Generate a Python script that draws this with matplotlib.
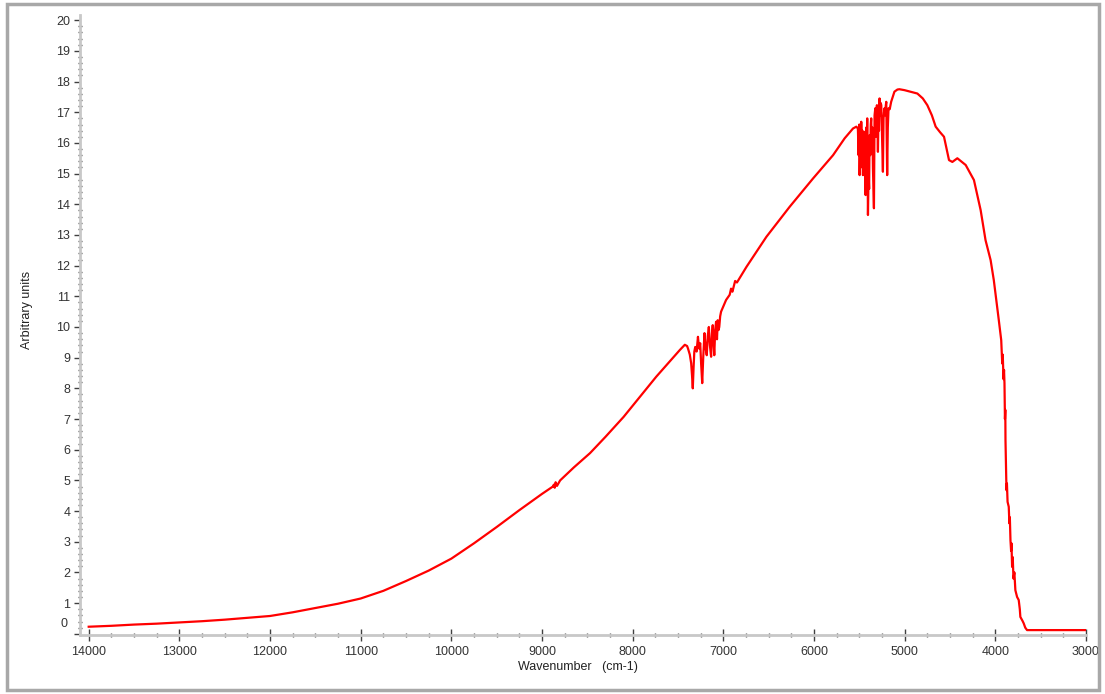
import matplotlib.pyplot as plt
from matplotlib.patches import Rectangle
from matplotlib.ticker import MultipleLocator, FuncFormatter

plt.rcParams['font.family'] = ['Liberation Sans', 'DejaVu Sans']

# spectrum (wavenumber in cm-1, arbitrary units)
wavenumber = [
    14000, 13750, 13500, 13250, 13000, 12750, 12500, 12250, 12000, 11750,
    11500, 11250, 11000, 10750, 10500, 10250, 10000, 9750, 9500, 9250,
    9000, 8880, 8870, 8860, 8850, 8835, 8800, 8650, 8470, 8300,
    8100, 7900, 7740, 7600, 7480, 7425, 7400, 7390, 7370, 7355,
    7345, 7337, 7328, 7320, 7310, 7295, 7280, 7268, 7255, 7245,
    7233, 7222, 7208, 7195, 7183, 7172, 7160, 7148, 7135, 7125,
    7117, 7108, 7100, 7090, 7080, 7070, 7062, 7053, 7045, 7035,
    7025, 6970, 6930, 6915, 6900, 6870, 6850, 6745, 6525, 6268,
    6011, 5790, 5662, 5570, 5533, 5516, 5508, 5500, 5497, 5490,
    5484, 5479, 5472, 5466, 5460, 5454, 5448, 5442, 5436, 5431,
    5425, 5419, 5413, 5405, 5398, 5392, 5387, 5380, 5374, 5369,
    5362, 5356, 5350, 5345, 5339, 5332, 5324, 5318, 5312, 5306,
    5300, 5295, 5289, 5283, 5277, 5270, 5264, 5258, 5250, 5245,
    5240, 5233, 5228, 5222, 5215, 5209, 5203, 5198, 5193, 5186,
    5178, 5165, 5149, 5113, 5080, 5058, 5002, 4950, 4860, 4800,
    4750, 4700, 4658, 4610, 4566, 4511, 4474, 4419, 4327, 4236,
    4162, 4108, 4052, 4017, 3990, 3962, 3935, 3924, 3918, 3910,
    3904, 3899, 3894, 3890, 3888, 3882, 3877, 3872, 3865, 3852,
    3845, 3840, 3833, 3826, 3822, 3815, 3808, 3800, 3790, 3779,
    3760, 3742, 3730, 3724, 3700, 3687, 3670, 3650, 3000,
]
intensity = [
    0.23, 0.26, 0.30, 0.33, 0.37, 0.41, 0.46, 0.52, 0.58, 0.70,
    0.84, 0.98, 1.15, 1.40, 1.72, 2.06, 2.45, 2.95, 3.48, 4.03,
    4.56, 4.80, 4.86, 4.76, 4.94, 4.82, 5.00, 5.42, 5.89, 6.42,
    7.07, 7.80, 8.38, 8.85, 9.25, 9.42, 9.38, 9.30, 9.10, 8.82,
    8.40, 8.00, 8.70, 9.20, 9.35, 9.20, 9.68, 9.30, 9.47, 8.80,
    8.17, 9.00, 9.80, 9.30, 9.08, 9.70, 10.00, 9.40, 9.03, 9.80,
    10.06, 9.50, 9.08, 9.90, 10.17, 9.60, 10.22, 9.90, 10.00, 10.35,
    10.50, 10.88, 11.05, 11.25, 11.15, 11.50, 11.45, 11.96, 12.94, 13.92,
    14.84, 15.60, 16.15, 16.47, 16.53, 16.47, 15.60, 16.60, 14.95, 16.50,
    15.20, 16.69, 15.50, 16.40, 14.95, 16.20, 15.00, 16.36, 14.80, 14.30,
    16.50, 15.30, 16.80, 13.65, 15.00, 14.50, 16.25, 15.60, 16.60, 16.80,
    15.80, 16.50, 15.17, 14.60, 13.87, 16.90, 17.13, 16.20, 17.00, 17.23,
    16.50, 15.71, 16.90, 16.40, 17.45, 16.90, 17.30, 17.23, 16.20, 15.60,
    15.06, 16.80, 17.00, 17.13, 16.90, 17.20, 17.34, 16.00, 14.95, 16.50,
    17.13, 17.10, 17.34, 17.67, 17.74, 17.75, 17.72, 17.68, 17.61, 17.45,
    17.23, 16.90, 16.53, 16.35, 16.20, 15.44, 15.38, 15.50, 15.28, 14.79,
    13.81, 12.83, 12.18, 11.53, 10.90, 10.23, 9.57, 8.81, 9.10, 8.30,
    8.60, 8.16, 7.00, 7.30, 6.31, 5.40, 4.68, 4.90, 4.30, 4.14,
    3.60, 3.80, 3.05, 2.70, 2.95, 2.18, 2.50, 1.80, 2.00, 1.42,
    1.20, 1.10, 0.80, 0.55, 0.42, 0.34, 0.20, 0.12, 0.12,
]

fig = plt.figure(figsize=(11.05, 6.94), dpi=100)
ax = fig.add_axes([0.0724, 0.085, 0.9104, 0.8934])

ax.plot(wavenumber, intensity, color='#ff0000', lw=1.6)

ax.set_xlim(14096, 3000)
ax.set_ylim(-0.04, 20.17)

ax.xaxis.set_major_locator(MultipleLocator(1000))
ax.xaxis.set_minor_locator(MultipleLocator(250))
ax.yaxis.set_major_locator(MultipleLocator(1))
ax.yaxis.set_minor_locator(MultipleLocator(0.2))
# the zero label sits a little higher in the original, drawn separately below
ax.yaxis.set_major_formatter(FuncFormatter(lambda v, p: '' if abs(v) < 1e-9 else '%d' % v))

for s in ['top', 'right']:
    ax.spines[s].set_visible(False)
for s in ['left', 'bottom']:
    ax.spines[s].set_color('#c8c8c8')
    ax.spines[s].set_linewidth(2)

ax.tick_params(axis='both', which='major', colors='#404040', labelcolor='#333333',
               labelsize=9, width=1)
ax.tick_params(axis='y', which='major', direction='out', length=4, pad=3)
ax.tick_params(axis='x', which='major', direction='inout', length=8, pad=4)
ax.tick_params(axis='both', which='minor', direction='inout', length=3, width=1,
               colors='#505050')

ax.annotate('0', xy=(0, 0), xycoords=('axes fraction', 'data'), xytext=(-9, 7),
            textcoords='offset points', ha='right', va='center', fontsize=9,
            color='#333333')

ax.set_xlabel('Wavenumber   (cm-1)', fontsize=9, color='#222222')
ax.set_ylabel('Arbitrary units', fontsize=9, color='#222222')
ax.xaxis.set_label_coords(0.495, -0.042)
ax.yaxis.set_label_coords(-0.047, 0.525)

# grey frame round the whole picture
fig.patches.append(Rectangle((0.006, 0.006), 0.989, 0.988, transform=fig.transFigure,
                             fill=False, edgecolor='#a8a8a8', lw=2.5))

fig.savefig('out.png', dpi=100)
